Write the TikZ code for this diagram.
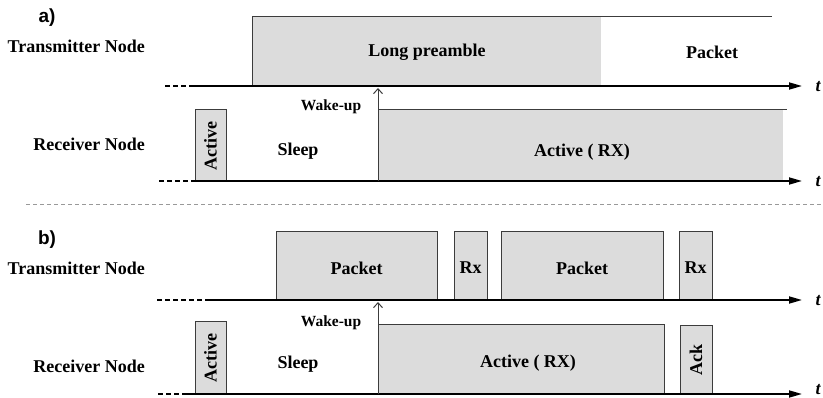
\documentclass[tikz,border=0pt]{standalone}
\usepackage{fontspec}
\setmainfont{Liberation Serif}
\setsansfont{Liberation Sans}
\usetikzlibrary{arrows.meta}
\definecolor{boxgray}{RGB}{220,220,220}
\definecolor{edge}{RGB}{60,60,60}
\begin{document}
\begin{tikzpicture}[x=1pt,y=-1pt,
  lbl/.style={font=\bfseries\fontsize{18}{21}\selectfont, inner sep=0pt},
  smalllbl/.style={font=\bfseries\fontsize{15.5}{18}\selectfont, inner sep=0pt},
  panel/.style={font=\sffamily\bfseries\fontsize{19}{22}\selectfont, inner sep=0pt},
  tlbl/.style={font=\bfseries\itshape\fontsize{18}{21}\selectfont, inner sep=0pt},
  boxline/.style={draw=edge, line width=1pt},
  slot/.style={fill=boxgray, draw=edge, line width=1pt},
  axis/.style={line width=1.7pt, -{Triangle[length=13pt,width=7pt]}},
  lead/.style={line width=1.7pt, dash pattern=on 5pt off 3pt},
  wake/.style={line width=1pt, edge, -{Straight Barb[length=5pt,width=9pt]}},
  sep/.style={line width=0.8pt, black!40, dash pattern=on 4pt off 3pt}
]
\useasboundingbox (0,0) rectangle (823,398);

% ---------------- panel a ----------------
\node[panel] (pa) at (47,18) {a)};
\node[lbl, anchor=east] (txa) at (145,46) {Transmitter Node};
\node[lbl, anchor=east] (rxa) at (145,144) {Receiver Node};

% long preamble + packet
\fill[boxgray] (252,17) rectangle (601,86);
\draw[boxline] (252,86) -- (252,17) -- (772,17);
\node[lbl] (lp) at (427,52) {Long preamble};
\node[lbl] (pk) at (712,52) {Packet};

% receiver
\draw[slot] (195,110) rectangle (226,181);
\node[lbl, rotate=90] (acta) at (210.5,146) {Active};
\node[lbl] (sla) at (298,151) {Sleep};
\fill[boxgray] (378,110) rectangle (783,181);
\draw[boxline] (378,110) -- (787,110);
\node[lbl] (arxa) at (582,152) {Active ( RX)};

% axes
\coordinate (ta0) at (165,86);  \coordinate (ta1) at (192,86);  \coordinate (ta2) at (802,86);
\coordinate (ra0) at (159,181); \coordinate (ra1) at (193,181); \coordinate (ra2) at (802,181);
\draw[lead] (ta0) -- (ta1);
\draw[axis] (ta1) -- (ta2);
\draw[lead] (ra0) -- (ra1);
\draw[axis] (ra1) -- (ra2);
\node[tlbl] (t1) at (818,87) {t};
\node[tlbl] (t2) at (818,182) {t};

% wake-up
\coordinate (wa0) at (378,181);
\coordinate (wa1) at (378,88);
\draw[wake] (wa0) -- (wa1);
\node[smalllbl] (wka) at (331,107) {Wake-up};

% separator
\draw[sep] (26,204) -- (823,204);

% ---------------- panel b ----------------
\node[panel] (pb) at (47,240) {b)};
\node[lbl, anchor=east] (txb) at (145,268) {Transmitter Node};
\node[lbl, anchor=east] (rxb) at (145,366) {Receiver Node};

\draw[slot] (276,232) rectangle (437,300);
\draw[slot] (454,232) rectangle (487,300);
\draw[slot] (501,232) rectangle (663,300);
\draw[slot] (679,232) rectangle (712,300);
\node[lbl] (pk1) at (356.5,268) {Packet};
\node[lbl] (rx1) at (470.5,268) {Rx};
\node[lbl] (pk2) at (582,268) {Packet};
\node[lbl] (rx2) at (695.5,268) {Rx};

\draw[slot] (195,322) rectangle (226,394);
\node[lbl, rotate=90] (actb) at (210.5,358) {Active};
\node[lbl] (slb) at (298,364) {Sleep};
\draw[slot] (378,325) rectangle (664,394);
\node[lbl] (arxb) at (528,363) {Active ( RX)};
\draw[slot] (680,326) rectangle (712,394);
\node[lbl, rotate=90] (ack) at (696,360) {Ack};

\coordinate (tb0) at (157,300); \coordinate (tb1) at (210,300); \coordinate (tb2) at (802,300);
\coordinate (rb0) at (158,394); \coordinate (rb1) at (187,394); \coordinate (rb2) at (802,394);
\draw[lead] (tb0) -- (tb1);
\draw[axis] (tb1) -- (tb2);
\draw[lead] (rb0) -- (rb1);
\draw[axis] (rb1) -- (rb2);
\node[tlbl] (t3) at (818,301) {t};
\node[tlbl] (t4) at (818,390) {t};

\coordinate (wb0) at (378,394);
\coordinate (wb1) at (378,302);
\draw[wake] (wb0) -- (wb1);
\node[smalllbl] (wkb) at (331,323) {Wake-up};
\end{tikzpicture}
\end{document}
